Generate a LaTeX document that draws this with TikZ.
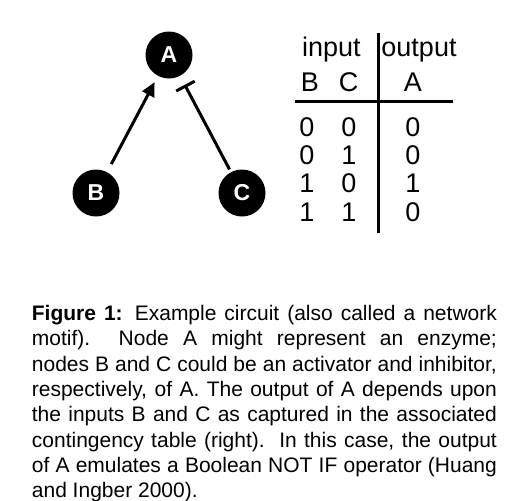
\documentclass[tikz,border=0pt]{standalone}
\usepackage{fontspec}
\setmainfont{Liberation Sans}
\usetikzlibrary{arrows.meta}
\begin{document}
\begin{tikzpicture}[x=1pt,y=-1pt,
  gnode/.style={circle,fill=black,minimum size=47pt,inner sep=0pt,text=white,font=\fontsize{23}{23}\selectfont\bfseries},
  tab/.style={anchor=base,inner sep=0pt,font=\fontsize{27}{27}\selectfont},
  edge/.style={line width=3pt},
  rule/.style={line width=3pt}]
\useasboundingbox (0,0) rectangle (507,501);
% network
\node[gnode] (A) at (169,55) {A};
\node[gnode] (B) at (96,193) {B};
\node[gnode] (C) at (242,193) {C};
\draw[edge,-{Triangle[length=14pt,width=13pt]},shorten <=9pt,shorten >=7pt] (B) -- (A);
\draw[edge,-{Bar[width=21pt]},shorten <=3pt,shorten >=10pt] (C) -- (A);
% table
\node[tab] (hin) at (331.3,56) {input};
\node[tab] (hout) at (419,56) {output};
\node[tab] (hB) at (310,91.5) {B};
\node[tab] (hC) at (348.5,91.5) {C};
\node[tab] (hA) at (413,91.5) {A};
\node[tab] (r1a) at (307,136.3) {0};
\node[tab] (r1b) at (349,136.3) {0};
\node[tab] (r1c) at (413,136.3) {0};
\node[tab] (r2a) at (307,164.5) {0};
\node[tab] (r2b) at (349,164.5) {1};
\node[tab] (r2c) at (413,164.5) {0};
\node[tab] (r3a) at (307,192.8) {1};
\node[tab] (r3b) at (349,192.8) {0};
\node[tab] (r3c) at (413,192.8) {1};
\node[tab] (r4a) at (307,221.2) {1};
\node[tab] (r4b) at (349,221.2) {1};
\node[tab] (r4c) at (413,221.2) {0};
\coordinate (vt) at (378.3,33.3);
\coordinate (vb) at (378.3,233);
\coordinate (hl) at (295,101);
\coordinate (hr) at (453,101);
\draw[rule] (vt) -- (vb);
\draw[rule] (hl) -- (hr);
% caption
\node[inner sep=0pt,anchor=base west] (cap) at (31.7,320.5) {\vtop{\hsize=465pt\parindent=0pt\fontsize{21}{25.3}\selectfont
\textbf{Figure 1:} Example circuit (also called a network\linebreak
motif).\ \ Node A might represent an enzyme;\linebreak
nodes B and C could be an activator and inhibitor,\linebreak
respectively, of A. The output of A depends upon\linebreak
the inputs B and C as captured in the associated\linebreak
contingency table (right).\ \ In this case, the output\linebreak
of A emulates a Boolean NOT IF operator (Huang\linebreak
and Ingber 2000).\par}};
\end{tikzpicture}
\end{document}
